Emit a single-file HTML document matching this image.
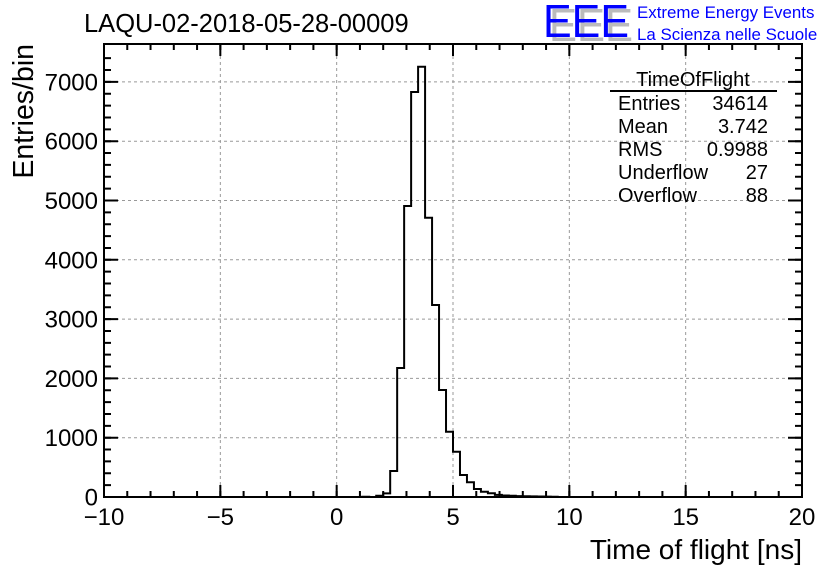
<!DOCTYPE html>
<html><head><style>body{margin:0;background:#fff}svg{display:block}text{font-family:"Liberation Sans",sans-serif}</style></head><body>
<svg width="836" height="572" viewBox="0 0 836 572" xmlns="http://www.w3.org/2000/svg">
<rect width="836" height="572" fill="#fff"/>
<g stroke="#999" stroke-dasharray="3,3" stroke-width="1">
<line x1="220.33" y1="44" x2="220.33" y2="497"/>
<line x1="336.67" y1="44" x2="336.67" y2="497"/>
<line x1="453" y1="44" x2="453" y2="497"/>
<line x1="569.33" y1="44" x2="569.33" y2="497"/>
<line x1="685.67" y1="44" x2="685.67" y2="497"/>
<line x1="104" y1="437.7" x2="802" y2="437.7"/>
<line x1="104" y1="378.4" x2="802" y2="378.4"/>
<line x1="104" y1="319.1" x2="802" y2="319.1"/>
<line x1="104" y1="259.8" x2="802" y2="259.8"/>
<line x1="104" y1="200.5" x2="802" y2="200.5"/>
<line x1="104" y1="141.2" x2="802" y2="141.2"/>
<line x1="104" y1="81.9" x2="802" y2="81.9"/>
</g>
<g stroke="#000" fill="none">
<line x1="104" y1="494" x2="803" y2="494" stroke-width="6" stroke-dasharray="2 21.2667" stroke-dashoffset="1"/>
<line x1="104" y1="47" x2="803" y2="47" stroke-width="6" stroke-dasharray="2 21.2667" stroke-dashoffset="1"/>
<line x1="107.5" y1="498" x2="107.5" y2="56" stroke-width="7" stroke-dasharray="2 9.86"/>
<line x1="798.5" y1="498" x2="798.5" y2="56" stroke-width="7" stroke-dasharray="2 9.86"/>
<path stroke-width="2" d="M220.33 497V485M336.67 497V485M453 497V485M569.33 497V485M685.67 497V485M220.33 44V56M336.67 44V56M453 44V56M569.33 44V56M685.67 44V56
M104 437.7H118M104 378.4H118M104 319.1H118M104 259.8H118M104 200.5H118M104 141.2H118M104 81.9H118
M802 437.7H788M802 378.4H788M802 319.1H788M802 259.8H788M802 200.5H788M802 141.2H788M802 81.9H788"/>
<rect x="104" y="44" width="698" height="453" stroke-width="2"/>
<path stroke-width="2" d="M104 497 H362.26 V496.8 H369.24 V497 H376.22 V495.8 H383.2 V493.4 H390.18 V471 H397.16 V368 H404.14 V206 H411.12 V92 H418.1 V66.7 H425.08 V217.7 H432.06 V305 H439.04 V390 H446.02 V431.7 H453 V451.7 H459.98 V475 H466.96 V482.3 H473.94 V489 H480.92 V491.7 H487.9 V493.3 H494.88 V494.9 H501.86 V495.5 H508.84 V495.8 H515.82 V496.1 H522.8 V496.3 H529.78 V496.4 H536.76 V496.5 H543.74 V496.6 H550.72 V496.7 H557.7 V497 H802"/>
</g>
<g font-size="24" fill="#000" text-anchor="middle">
<text x="104" y="525">−10</text>
<text x="220.33" y="525">−5</text>
<text x="336.67" y="525">0</text>
<text x="453" y="525">5</text>
<text x="569.33" y="525">10</text>
<text x="685.67" y="525">15</text>
<text x="802" y="525">20</text>
</g>
<g font-size="24" fill="#000" text-anchor="end">
<text x="98" y="505.5">0</text>
<text x="98" y="446.2">1000</text>
<text x="98" y="386.9">2000</text>
<text x="98" y="327.6">3000</text>
<text x="98" y="268.3">4000</text>
<text x="98" y="209">5000</text>
<text x="98" y="149.7">6000</text>
<text x="98" y="90.4">7000</text>
</g>
<text x="84" y="32" font-size="25.5">LAQU-02-2018-05-28-00009</text>
<text x="802" y="559" font-size="28" text-anchor="end">Time of flight [ns]</text>
<text transform="translate(33,44) rotate(-90)" font-size="28.5" text-anchor="end">Entries/bin</text>
<text x="549" y="41" font-size="46" fill="#bbb" textLength="84" lengthAdjust="spacingAndGlyphs">EEE</text>
<text x="543" y="37" font-size="46" fill="#0000ff" textLength="86" lengthAdjust="spacingAndGlyphs">EEE</text>
<text x="637" y="18" font-size="16.9" fill="#0000ff">Extreme Energy Events</text>
<text x="637" y="40" font-size="16.9" fill="#0000ff">La Scienza nelle Scuole</text>
<text x="693" y="86" font-size="20" text-anchor="middle">TimeOfFlight</text>
<line x1="610" y1="91" x2="777" y2="91" stroke="#000" stroke-width="2"/>
<g font-size="20">
<text x="618" y="110">Entries</text><text x="768" y="110" text-anchor="end">34614</text>
<text x="618" y="133">Mean</text><text x="768" y="133" text-anchor="end">3.742</text>
<text x="618" y="156">RMS</text><text x="768" y="156" text-anchor="end">0.9988</text>
<text x="618" y="179">Underflow</text><text x="768" y="179" text-anchor="end">27</text>
<text x="618" y="202">Overflow</text><text x="768" y="202" text-anchor="end">88</text>
</g>
</svg>
</body></html>
